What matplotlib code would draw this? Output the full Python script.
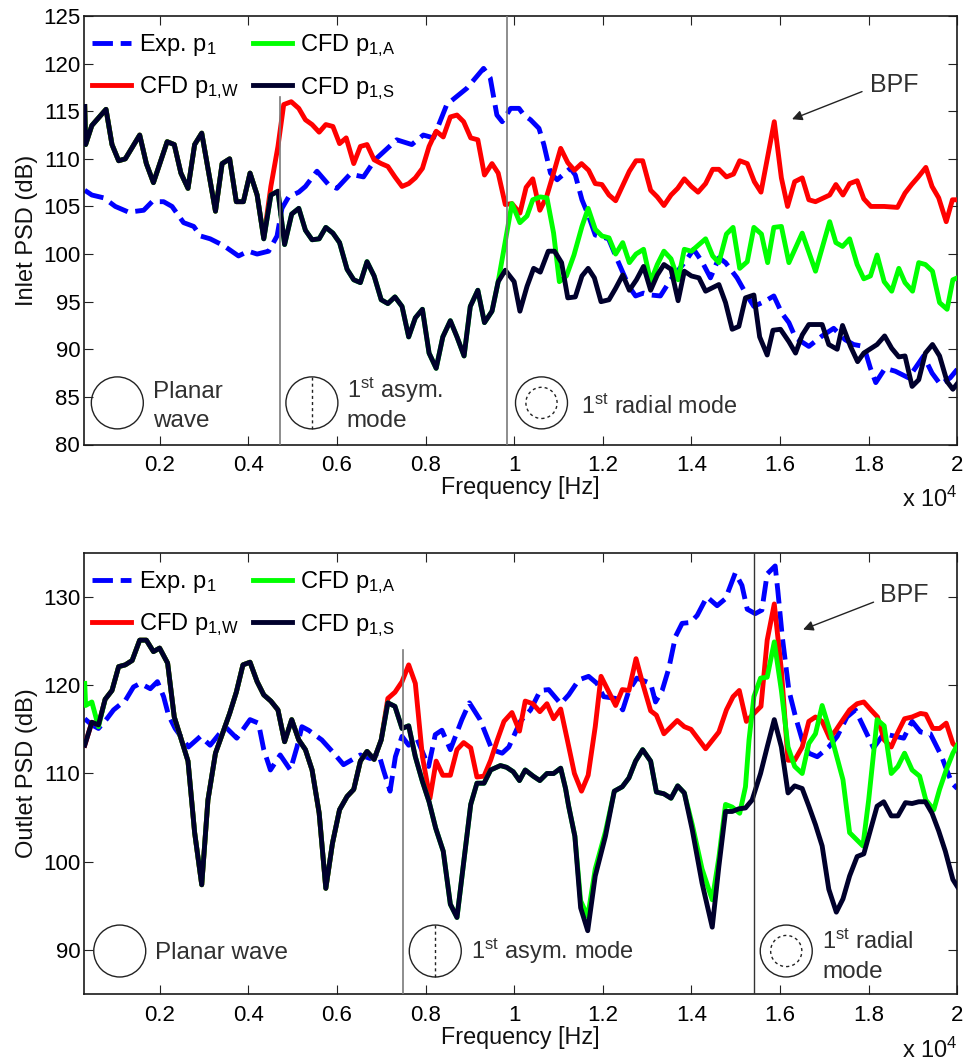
import matplotlib
matplotlib.use('Agg')
import matplotlib.pyplot as plt
from matplotlib.patches import Ellipse

plt.rcParams['font.family'] = ['Liberation Sans', 'DejaVu Sans']
plt.rcParams['mathtext.fontset'] = 'custom'
plt.rcParams['mathtext.rm'] = 'Liberation Sans'
plt.rcParams['mathtext.it'] = 'Liberation Sans:italic'
plt.rcParams['mathtext.bf'] = 'Liberation Sans:bold'

# frequency is in units of 1e4 Hz, levels in dB
# ---- inlet ----
in_s_f = [0.031, 0.033, 0.047, 0.079, 0.0925, 0.1075, 0.1225, 0.155, 0.17, 0.186, 0.217, 0.233, 0.248, 0.264, 0.279,
          0.295, 0.326, 0.341, 0.358, 0.373, 0.389, 0.404, 0.42, 0.435, 0.451, 0.467, 0.482, 0.498, 0.514, 0.529,
          0.544, 0.56, 0.575, 0.591, 0.606, 0.623, 0.638, 0.653, 0.668, 0.684, 0.7, 0.715, 0.731, 0.747, 0.762,
          0.777, 0.793, 0.808, 0.824, 0.839, 0.856, 0.871, 0.887, 0.901, 0.918, 0.933, 0.95, 0.964, 0.98, 1.0,
          1.013, 1.029, 1.044, 1.059, 1.077, 1.091, 1.107, 1.121, 1.138, 1.153, 1.167, 1.181, 1.196, 1.214, 1.229,
          1.245, 1.26, 1.276, 1.292, 1.308, 1.323, 1.338, 1.354, 1.37, 1.384, 1.4, 1.417, 1.432, 1.462, 1.477,
          1.492, 1.507, 1.522, 1.541, 1.554, 1.571, 1.584, 1.601, 1.62, 1.635, 1.65, 1.665, 1.695, 1.71, 1.729,
          1.741, 1.759, 1.775, 1.789, 1.819, 1.836, 1.852, 1.868, 1.882, 1.898, 1.913, 1.928, 1.944, 1.96, 1.977,
          1.99, 2.0]
in_s_db = [115.5, 111.5, 113.5, 115.2, 111.5, 109.8, 110, 112.5, 109.5, 107.5, 111.8, 111.5, 108.5, 106.9, 111.5,
           112.7, 104.5, 109.5, 110, 105.5, 105.5, 108.5, 106.2, 101.6, 106.2, 106.6, 101, 104.2, 104.8, 102.5,
           101.5, 101.6, 102.8, 102.2, 101.2, 98.4, 97.3, 97, 99.2, 97.7, 95.2, 94.8, 95.5, 94.5, 91.3,
           93.3, 94.2, 89.6, 88, 91.3, 93, 91.3, 89.3, 94.5, 96.2, 92.8, 94, 97.1, 98.3, 97.1,
           94, 96.6, 98.5, 98.1, 100.3, 100.3, 99.1, 95.4, 95.5, 97.7, 98.5, 97.5, 95, 95.2, 96.4,
           97.8, 96.2, 97.3, 98.7, 96.2, 97.8, 98.9, 98.4, 95.1, 98.2, 97.7, 97.5, 96.1, 96.8, 94.9,
           92.1, 92.4, 95.4, 95.7, 91.3, 89.4, 92, 92.1, 90.8, 89.6, 91.5, 92.6, 92.6, 90.5, 90,
           92.5, 90.3, 88.7, 89.6, 90.5, 91.4, 90.1, 89.2, 89.3, 86.1, 86.8, 89.6, 90.5, 89.3, 86.6,
           85.8, 86.4]

in_exp_f = [0.031, 0.047, 0.074, 0.1, 0.13, 0.164, 0.183, 0.209, 0.228, 0.254, 0.277, 0.292, 0.314, 0.344, 0.378,
            0.4, 0.42, 0.446, 0.465, 0.476, 0.491, 0.514, 0.529, 0.555, 0.581, 0.6, 0.63, 0.66, 0.686, 0.735,
            0.769, 0.795, 0.818, 0.848, 0.893, 0.931, 0.946, 0.961, 0.973, 0.992, 1.011, 1.022, 1.037, 1.056, 1.067,
            1.082, 1.097, 1.127, 1.138, 1.153, 1.168, 1.183, 1.213, 1.229, 1.244, 1.259, 1.274, 1.292, 1.308, 1.33,
            1.353, 1.386, 1.405, 1.424, 1.443, 1.462, 1.477, 1.503, 1.526, 1.541, 1.564, 1.586, 1.604, 1.62, 1.635,
            1.665, 1.695, 1.721, 1.747, 1.766, 1.789, 1.804, 1.816, 1.837, 1.86, 1.89, 1.924, 1.943, 1.962, 1.984,
            2.0]
in_exp_db = [106.7, 106.2, 105.9, 105, 104.4, 104.6, 105.5, 105.5, 105, 103.3, 102.9, 101.9, 101.6, 100.9, 99.8,
             100.3, 100, 100.3, 101.9, 104.8, 106, 106.5, 107.1, 108.7, 107.3, 106.9, 108.4, 108.1, 109.9, 112,
             111.5, 112.5, 112.2, 115.7, 117.4, 119.5, 118.5, 114.6, 113.9, 115.3, 115.3, 114.6, 114.1, 113.2, 111.5,
             108.5, 107.8, 109, 108.3, 105.7, 104, 102, 101.6, 99.8, 98.2, 96.6, 95.6, 95.9, 95.7, 95.6,
             97.3, 99.2, 100.5, 99.2, 97.5, 99.6, 99.1, 97.5, 95.6, 94.5, 95, 95.6, 93.8, 92.8, 91.2,
             90.3, 91.4, 92.2, 91, 90.5, 90.3, 88, 86.5, 88, 87.7, 87, 89.3, 87.5, 86.3, 87,
             87.9]

in_w_f = [0.435, 0.451, 0.467, 0.48, 0.497, 0.514, 0.529, 0.544, 0.56, 0.575, 0.591, 0.606, 0.621, 0.638, 0.653,
          0.668, 0.684, 0.7, 0.715, 0.731, 0.747, 0.762, 0.777, 0.793, 0.808, 0.824, 0.84, 0.856, 0.871, 0.886,
          0.902, 0.918, 0.933, 0.95, 0.964, 0.98, 0.995, 1.013, 1.027, 1.042, 1.058, 1.073, 1.089, 1.105, 1.121,
          1.136, 1.152, 1.168, 1.183, 1.198, 1.214, 1.229, 1.26, 1.275, 1.29, 1.308, 1.323, 1.338, 1.354, 1.369,
          1.384, 1.4, 1.415, 1.432, 1.448, 1.462, 1.479, 1.495, 1.509, 1.526, 1.542, 1.557, 1.587, 1.603, 1.617,
          1.633, 1.65, 1.665, 1.68, 1.712, 1.726, 1.742, 1.757, 1.774, 1.789, 1.805, 1.835, 1.865, 1.882, 1.897,
          1.912, 1.929, 1.943, 1.958, 1.975, 1.989, 2.0]
in_w_db = [101.7, 107.1, 111.3, 115.7, 116, 115.3, 114.1, 113.6, 112.8, 113.6, 113.4, 111.6, 112.2, 109.5, 111.3,
           111.5, 109.9, 109.5, 109.2, 108.1, 107.1, 107.4, 108, 109, 111.3, 112.9, 112.3, 114.4, 114.6, 113.9,
           112.2, 112, 108.3, 109.5, 108.5, 105.2, 105.3, 104.3, 107, 107.9, 104.6, 106, 108.5, 111.1, 109.6,
           108.8, 109.5, 108.8, 107.4, 107.3, 106.2, 105.6, 108.7, 109.8, 109.8, 106.7, 106, 105.1, 106.2, 106.9,
           107.9, 107.1, 106.5, 107.4, 108.9, 108.9, 108.1, 108.4, 109.8, 109.5, 107.6, 106.5, 113.9, 108, 105,
           107.6, 108, 105.7, 105.5, 106.2, 107.3, 106.2, 107.4, 107.7, 105.8, 105, 105, 104.9, 106.4, 107.3,
           108.1, 109.1, 107.1, 105.9, 103.4, 105.7, 105.7]

in_a_f = [0.964, 0.995, 1.013, 1.029, 1.042, 1.059, 1.074, 1.089, 1.102, 1.118, 1.135, 1.153, 1.167, 1.183, 1.198,
          1.214, 1.229, 1.245, 1.26, 1.275, 1.292, 1.308, 1.323, 1.338, 1.354, 1.37, 1.384, 1.4, 1.432, 1.448,
          1.462, 1.479, 1.494, 1.509, 1.526, 1.541, 1.558, 1.572, 1.586, 1.603, 1.62, 1.65, 1.68, 1.712, 1.726,
          1.741, 1.757, 1.774, 1.789, 1.804, 1.819, 1.835, 1.852, 1.868, 1.882, 1.899, 1.913, 1.928, 1.944, 1.96,
          1.977, 1.99, 2.0]
in_a_db = [97.1, 105.3, 103.3, 104, 105.7, 106, 105.9, 102.2, 97.1, 97.7, 99.9, 102.9, 104.8, 102.6, 101.9,
           101.7, 100, 101.2, 99.1, 100, 100.5, 97.1, 98.9, 100.3, 99.5, 97.3, 100.5, 100.3, 101.6, 99.8,
           99.1, 102.1, 102.8, 98.5, 99.2, 102.8, 102.1, 99.1, 102.8, 102.9, 99.1, 102.2, 98.2, 103.4, 101.2,
           100.8, 101.6, 98.9, 97.4, 97.7, 99.9, 97.1, 96.1, 98.5, 97, 96.1, 99.1, 98.9, 98.2, 94.9,
           94.2, 97.3, 97.5]

# ---- outlet ----
out_s_f = [0.031, 0.047, 0.062, 0.077, 0.0925, 0.1075, 0.1225, 0.138, 0.155, 0.17, 0.186, 0.2, 0.218, 0.233, 0.248,
           0.264, 0.279, 0.295, 0.309, 0.326, 0.341, 0.358, 0.373, 0.388, 0.404, 0.42, 0.435, 0.451, 0.467, 0.482,
           0.498, 0.514, 0.529, 0.544, 0.56, 0.575, 0.59, 0.606, 0.623, 0.638, 0.653, 0.668, 0.684, 0.7, 0.715,
           0.731, 0.747, 0.762, 0.777, 0.793, 0.808, 0.823, 0.84, 0.856, 0.871, 0.887, 0.902, 0.916, 0.932, 0.947,
           0.969, 0.983, 0.998, 1.012, 1.025, 1.043, 1.058, 1.074, 1.089, 1.105, 1.116, 1.123, 1.137, 1.15, 1.166,
           1.183, 1.206, 1.226, 1.244, 1.259, 1.274, 1.29, 1.308, 1.321, 1.338, 1.354, 1.369, 1.384, 1.402, 1.424,
           1.447, 1.462, 1.477, 1.492, 1.507, 1.522, 1.537, 1.556, 1.571, 1.587, 1.603, 1.618, 1.633, 1.65, 1.665,
           1.68, 1.695, 1.71, 1.727, 1.742, 1.757, 1.774, 1.789, 1.804, 1.819, 1.834, 1.851, 1.866, 1.883, 1.898,
           1.913, 1.928, 1.943, 1.958, 1.973, 1.99, 2.0]
out_s_db = [113.2, 115.8, 115.5, 118.4, 119.4, 122.1, 122.3, 122.8, 125.1, 125.1, 123.8, 124.2, 122.5, 116.4, 114,
            111.4, 103.3, 97.4, 107, 112.3, 114.4, 116.8, 119.2, 122.3, 122.6, 120.4, 118.9, 118.2, 117.2, 113.6,
            116.1, 113.8, 112.7, 110.4, 105.5, 97, 102.1, 105.9, 107.4, 108.2, 111.4, 112.5, 111.6, 113.8, 118,
            117.6, 115.1, 115.4, 111.9, 109.1, 106.8, 103.8, 101.2, 95.2, 93.7, 100.3, 106.5, 108.9, 108.9, 110.4,
            110.9, 110.7, 110.2, 109.2, 110.4, 109.7, 109.2, 110, 110, 110.6, 108.3, 106.3, 102.9, 94.8, 92.2,
            98.4, 102.9, 108, 108.5, 109.5, 111.4, 112.7, 111.4, 107.9, 107.7, 107.2, 108.6, 107.8, 103.6, 97.6,
            92.6, 99.5, 105.7, 105.7, 106, 106.1, 107, 110, 113, 116.1, 113, 107.8, 108.6, 108.3, 106.3,
            104.2, 101.8, 96.9, 94.3, 95.8, 98.4, 100.6, 100.9, 103.6, 106.3, 106.8, 105.2, 105.2, 106.7, 106.6,
            106.8, 106.8, 105.5, 103.5, 101.2, 98, 97.2]

out_exp_f = [0.031, 0.047, 0.062, 0.081, 0.096, 0.123, 0.141, 0.156, 0.179, 0.195, 0.209, 0.22, 0.235, 0.265, 0.292,
             0.314, 0.348, 0.374, 0.404, 0.423, 0.435, 0.45, 0.472, 0.495, 0.51, 0.521, 0.536, 0.566, 0.593, 0.615,
             0.653, 0.675, 0.694, 0.705, 0.72, 0.732, 0.747, 0.762, 0.78, 0.807, 0.822, 0.837, 0.856, 0.882, 0.899,
             0.923, 0.95, 0.973, 0.988, 1.014, 1.037, 1.059, 1.078, 1.105, 1.123, 1.146, 1.168, 1.187, 1.202, 1.229,
             1.245, 1.259, 1.277, 1.308, 1.319, 1.334, 1.349, 1.364, 1.379, 1.398, 1.413, 1.435, 1.458, 1.477, 1.499,
             1.514, 1.526, 1.544, 1.559, 1.571, 1.589, 1.595, 1.605, 1.62, 1.635, 1.65, 1.665, 1.684, 1.71, 1.729,
             1.751, 1.77, 1.792, 1.811, 1.834, 1.879, 1.898, 1.917, 1.939, 1.965, 1.973, 1.988, 2.0]
out_exp_db = [116.2, 115.5, 115.1, 116.2, 117.2, 118.3, 119.8, 120.2, 119.6, 120.4, 118.7, 116.6, 115.1, 113, 114.2,
              113.2, 115.3, 114, 116.1, 115.7, 112.7, 110.4, 112.1, 110.4, 113, 115.3, 114.9, 113.8, 112.3, 111,
              112.1, 111.7, 112.3, 110.4, 108, 111.9, 114.2, 113.2, 114, 110.8, 114.4, 114.9, 112.7, 116.1, 118,
              116.1, 112.7, 112.3, 113, 115.9, 117.2, 119.4, 119.5, 117.9, 118.9, 120.6, 121, 120.2, 118.7, 118.5,
              117.2, 119.4, 120.8, 120.2, 118.1, 119.4, 121.9, 125.5, 127, 127.1, 127.9, 130, 129, 129.8, 132.7,
              131.3, 128.6, 128.1, 128.5, 132.6, 133.5, 130.7, 125.5, 119.4, 116.4, 113.8, 112.3, 111.9, 113, 114.2,
              116.4, 117.2, 114.9, 112.9, 114.5, 114, 115.9, 114.7, 114.5, 111.9, 110.8, 108.9, 108.3]

out_w_f = [0.715, 0.731, 0.747, 0.762, 0.777, 0.793, 0.81, 0.824, 0.839, 0.856, 0.871, 0.886, 0.902, 0.916, 0.932,
           0.947, 0.962, 0.977, 0.995, 1.012, 1.025, 1.042, 1.058, 1.074, 1.089, 1.105, 1.12, 1.136, 1.152, 1.167,
           1.183, 1.196, 1.214, 1.229, 1.244, 1.259, 1.275, 1.29, 1.308, 1.321, 1.338, 1.368, 1.384, 1.399, 1.432,
           1.462, 1.479, 1.494, 1.508, 1.524, 1.541, 1.557, 1.571, 1.587, 1.603, 1.618, 1.633, 1.65, 1.665, 1.68,
           1.695, 1.712, 1.726, 1.742, 1.757, 1.774, 1.789, 1.805, 1.82, 1.835, 1.851, 1.866, 1.881, 1.898, 1.917,
           1.929, 1.945, 1.96, 1.975, 1.99, 2.0]
out_w_db = [118.5, 119.2, 120.4, 122.3, 120.2, 111.9, 107.2, 111.4, 109.8, 109.8, 112.7, 113.5, 112.9, 109.6, 109.7,
            111.5, 113.8, 115.9, 116.9, 114.8, 118.2, 117.9, 117, 117.9, 116.2, 117.3, 113.8, 110, 108, 109.8,
            115.3, 121, 119.2, 117.7, 119.5, 119.4, 123, 120.2, 117.1, 116.6, 114.5, 116, 115.3, 115, 112.8,
            114.7, 117.2, 118.7, 119.4, 115.9, 116.8, 117.6, 125.1, 129.2, 121.7, 111.5, 111.5, 113, 115.9, 116.4,
            115.9, 114, 114.9, 116.1, 117.2, 117.9, 118.1, 117.2, 116.4, 113.8, 113, 114.7, 116.2, 116.4, 116.8,
            116.7, 115.1, 115.1, 115.7, 113.4, 112.9]

out_a_f = [0.031, 0.033, 0.047, 0.062, 1.137, 1.15, 1.166, 1.183, 1.206, 1.402, 1.424, 1.447, 1.462, 1.477, 1.492,
           1.509, 1.522, 1.53, 1.541, 1.556, 1.571, 1.587, 1.603, 1.618, 1.633, 1.65, 1.665, 1.68, 1.695, 1.712,
           1.726, 1.742, 1.757, 1.787, 1.8, 1.819, 1.835, 1.851, 1.866, 1.881, 1.898, 1.915, 1.929, 1.947, 1.96,
           1.975, 1.99, 2.0]
out_a_db = [120.2, 117.7, 118.1, 115.3, 102.9, 95.6, 93.8, 99.2, 103.4, 104.2, 99.2, 95.7, 100.5, 106.5, 106.2,
            105.5, 108.5, 113.8, 118.7, 120.8, 120.9, 124.9, 119.4, 113, 110.8, 110, 113.4, 114.5, 117.7, 114.9,
            112.3, 109.3, 103.3, 101.8, 107, 116.1, 115.4, 110, 110.8, 112.3, 110.4, 109.7, 107, 105.9, 108.2,
            110.4, 112.3, 113.2]

xtick_vals = [0.2, 0.4, 0.6, 0.8, 1.0, 1.2, 1.4, 1.6, 1.8, 2.0]
xtick_txt = ['0.2', '0.4', '0.6', '0.8', '1', '1.2', '1.4', '1.6', '1.8', '2']
in_ticks = [80, 85, 90, 95, 100, 105, 110, 115, 120, 125]
out_ticks = [90, 100, 110, 120, 130]

C_EXP = '#0000ff'
C_W = '#ff0000'
C_A = '#00ff00'
C_S = '#00002c'
TXT = '#303030'
W, H = 967.0, 1064.0
LW = 3.5


def upto(f, db, lim):
    pts = [(a, b) for a, b in zip(f, db) if a < lim]
    return [p[0] for p in pts], [p[1] for p in pts]


def between(f, db, lo, hi):
    pts = [(a, b) for a, b in zip(f, db) if lo < a < hi]
    return [p[0] for p in pts], [p[1] for p in pts]


def curves(ax, fe, de, fw, dw, fa, da, fs, ds):
    l1, = ax.plot(fe, de, color=C_EXP, lw=LW, dashes=(4.2, 1.6), dash_capstyle='butt', label='Exp. p$_{1}$', zorder=2)
    l2, = ax.plot(fw, dw, color=C_W, lw=LW, label='CFD p$_{1{,}\\mathrm{W}}$', zorder=3)
    l3, = ax.plot(fa, da, color=C_A, lw=LW, label='CFD p$_{1{,}\\mathrm{A}}$', zorder=4)
    l4, = ax.plot(fs, ds, color=C_S, lw=LW, label='CFD p$_{1{,}\\mathrm{S}}$', zorder=5)
    ax.legend(handles=[l1, l2, l3, l4], ncol=2, frameon=False, fontsize=17, loc='upper left',
              bbox_to_anchor=(0.0, 0.98), handlelength=1.65, handletextpad=0.34,
              columnspacing=0.58, labelspacing=0.66, borderaxespad=0.18, borderpad=0.15)


def mode_circle(ax, f, db, w, h, kind):
    ax.add_patch(Ellipse((f, db), w, h, fill=False, ec='#222222', lw=1.0, zorder=6))
    if kind == 'asym':
        ax.plot([f, f], [db - h / 2, db + h / 2], color='#222222', lw=1.0, ls=(0, (2.2, 2.2)), zorder=6)
    if kind == 'radial':
        ax.add_patch(Ellipse((f, db), w * 0.6, h * 0.6, fill=False, ec='#222222', lw=1.0,
                             ls=(0, (2.2, 2.2)), zorder=6))


def style(ax, yticks, ylab):
    ax.set_xlim(0.03, 2.0)
    ax.set_xticks(xtick_vals)
    ax.set_xticklabels(xtick_txt)
    ax.set_yticks(yticks)
    ax.tick_params(direction='in', length=6.3, width=0.8, top=True, right=True, labelsize=16, color='#222222')
    ax.tick_params(axis='x', pad=7.5)
    ax.tick_params(axis='y', pad=3)
    for s in ax.spines.values():
        s.set_linewidth(1.2)
        s.set_color('#1a1a1a')
    ax.set_xlabel('Frequency [Hz]', fontsize=16.8, labelpad=0, color='#111111')
    ax.set_ylabel(ylab, fontsize=17, labelpad=3.5, color='#111111')
    ax.text(1.0, -0.145, 'x 10$^{4}$', transform=ax.transAxes, ha='right', va='baseline', fontsize=17, color='#111111')


fig = plt.figure(figsize=(9.67, 10.64), dpi=100)
ax1 = fig.add_axes([84.3 / W, 1 - 444.5 / H, (957.3 - 84.3) / W, (444.5 - 16) / H])
ax2 = fig.add_axes([84.3 / W, 1 - 994.3 / H, (957.3 - 84.3) / W, (994.3 - 552.7) / H])

# top panel: the green and red curves sit under the black one where they are not listed
fw = upto(in_s_f, in_s_db, 0.43)
fa = upto(in_s_f, in_s_db, 0.96)
curves(ax1, in_exp_f, in_exp_db, fw[0] + in_w_f, fw[1] + in_w_db, fa[0] + in_a_f, fa[1] + in_a_db, in_s_f, in_s_db)
ax1.set_ylim(80, 125)
style(ax1, in_ticks, 'Inlet PSD (dB)')

ax1.plot([0.471, 0.471], [80, 116.5], color='#7a7a7a', lw=1.2, zorder=7)
ax1.plot([0.983, 0.983], [80, 125], color='#7a7a7a', lw=1.2, zorder=7)
CW1, CH1 = 0.1173, 5.46
mode_circle(ax1, 0.1045, 84.37, CW1, CH1, 'plain')
mode_circle(ax1, 0.5436, 84.37, CW1, CH1, 'asym')
mode_circle(ax1, 1.0617, 84.37, CW1, CH1, 'radial')
ax1.text(0.184, 84.9, 'Planar', fontsize=17.5, color=TXT)
ax1.text(0.184, 81.8, 'wave', fontsize=17.5, color=TXT)
ax1.text(0.6226, 84.9, '1$^{\\mathrm{st}}$ asym.', fontsize=17, color=TXT)
ax1.text(0.6226, 81.8, 'mode', fontsize=17.5, color=TXT)
ax1.text(1.15, 83.25, '1$^{\\mathrm{st}}$ radial mode', fontsize=16.8, color=TXT)
ax1.text(1.804, 117.06, 'BPF', fontsize=18, color=TXT)
ax1.annotate('', xy=(1.627, 114.16), xytext=(1.785, 117.06),
             arrowprops=dict(arrowstyle='-|>', color='#222222', lw=1.0, shrinkA=0, shrinkB=0, mutation_scale=15))

# bottom panel
fw = upto(out_s_f, out_s_db, 0.71)
mid = between(out_s_f, out_s_db, 0.063, 1.13)
late = between(out_s_f, out_s_db, 1.21, 1.39)
fa_all = out_a_f[:4] + mid[0] + out_a_f[4:9] + late[0] + out_a_f[9:]
da_all = out_a_db[:4] + mid[1] + out_a_db[4:9] + late[1] + out_a_db[9:]
curves(ax2, out_exp_f, out_exp_db, fw[0] + out_w_f, fw[1] + out_w_db, fa_all, da_all, out_s_f, out_s_db)
ax2.set_ylim(85, 135)
style(ax2, out_ticks, 'Outlet PSD (dB)')

ax2.plot([0.749, 0.749], [85, 124], color='#7a7a7a', lw=1.2, zorder=7)
ax2.plot([1.541, 1.541], [85, 135], color='#333333', lw=1.0, zorder=7)
CW2, CH2 = 0.1173, 5.88
mode_circle(ax2, 0.11, 89.9, CW2, CH2, 'plain')
mode_circle(ax2, 0.822, 89.9, CW2, CH2, 'asym')
mode_circle(ax2, 1.614, 89.9, CW2, CH2, 'radial')
ax2.text(0.19, 89.0, 'Planar wave', fontsize=17.5, color=TXT)
ax2.text(0.903, 89.0, '1$^{\\mathrm{st}}$ asym. mode', fontsize=17, color=TXT)
ax2.text(1.695, 90.1, '1$^{\\mathrm{st}}$ radial', fontsize=17, color=TXT)
ax2.text(1.695, 86.9, 'mode', fontsize=17.5, color=TXT)
ax2.text(1.826, 129.4, 'BPF', fontsize=18, color=TXT)
ax2.annotate('', xy=(1.652, 126.3), xytext=(1.811, 129.4),
             arrowprops=dict(arrowstyle='-|>', color='#222222', lw=1.0, shrinkA=0, shrinkB=0, mutation_scale=15))

fig.savefig('out.png', dpi=100)
